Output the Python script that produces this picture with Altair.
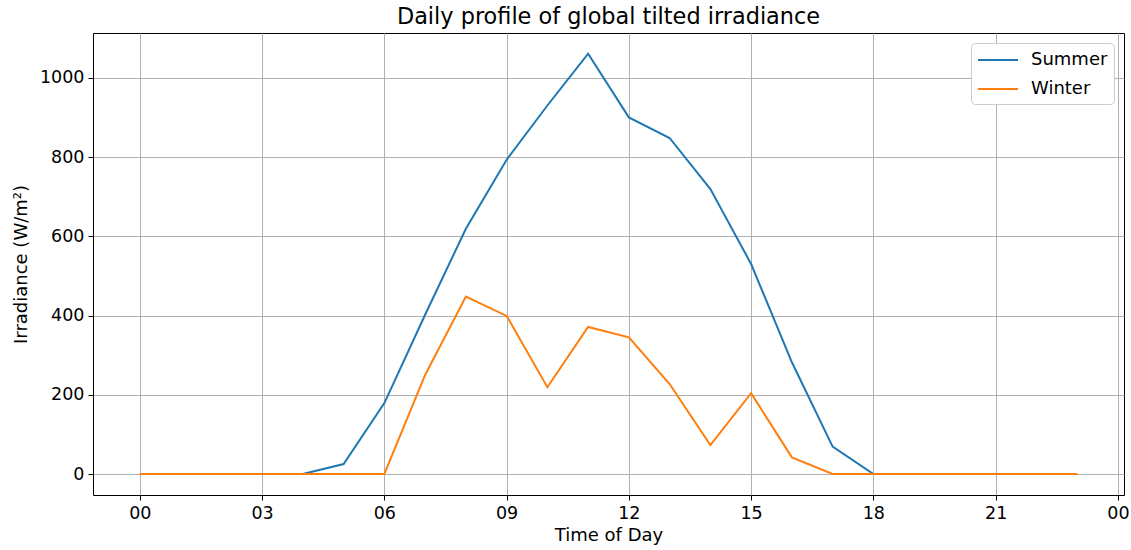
import altair as alt
import pandas as pd

hours = list(range(24))
summer = [0, 0, 0, 0, 0, 25, 179, 402, 619, 793, 930, 1061, 900, 848, 719, 530, 282, 69, 0, 0, 0, 0, 0, 0]
winter = [0, 0, 0, 0, 0, 0, 0, 250, 448, 399, 219, 371, 345, 227, 73, 204, 42, 0, 0, 0, 0, 0, 0, 0]
series = ["Summer", "Winter"]
colors = ["#1f77b4", "#ff7f0e"]
x_ticks = [0, 3, 6, 9, 12, 15, 18, 21, 24]
y_ticks = [0, 200, 400, 600, 800, 1000]

rows = []
for h, s, w in zip(hours, summer, winter):
    rows.append({"hour": h, "value": s, "season": "Summer"})
    rows.append({"hour": h, "value": w, "season": "Winter"})
df = pd.DataFrame(rows)

font = "DejaVu Sans"

chart = alt.Chart(df).mark_line(strokeWidth=2).encode(
    x=alt.X("hour:Q",
            scale=alt.Scale(domain=[-1.15, 24.15], nice=False, zero=False),
            axis=alt.Axis(values=x_ticks, title="Time of Day",
                          labelExpr="(datum.value % 24 < 10 ? '0' : '') + (datum.value % 24)",
                          labelFontSize=17.5, titleFontSize=18, titleFontWeight="normal",
                          labelPadding=4, titlePadding=5, tickSize=5,
                          grid=True, gridColor="#b0b0b0", gridWidth=1,
                          domain=False, tickColor="#000", labelColor="#000", titleColor="#000")),
    y=alt.Y("value:Q",
            scale=alt.Scale(domain=[-53, 1113], nice=False, zero=False),
            axis=alt.Axis(values=y_ticks, title="Irradiance (W/m²)", format="d",
                          labelFontSize=17.5, titleFontSize=18, titleFontWeight="normal",
                          labelPadding=4, titlePadding=9, tickSize=5,
                          grid=True, gridColor="#b0b0b0", gridWidth=1,
                          domain=False, tickColor="#000", labelColor="#000", titleColor="#000")),
    color=alt.Color("season:N",
                    scale=alt.Scale(domain=series, range=colors),
                    legend=alt.Legend(title=None, orient="top-right", offset=10,
                                      symbolType="M-1,0H3", symbolSize=400, symbolStrokeWidth=2,
                                      labelFontSize=18, labelColor="#000",
                                      fillColor="white", strokeColor="#cccccc",
                                      cornerRadius=4, padding=6, rowPadding=9,
                                      labelOffset=32)),
).properties(
    width=1031, height=462,
    title=alt.TitleParams("Daily profile of global tilted irradiance", fontSize=22.4,
                          fontWeight="normal", color="#000", offset=5),
    autosize=alt.AutoSizeParams(type="none"),
    padding={"left": 93, "top": 33, "right": 7, "bottom": 55},
).configure(font=font).configure_view(stroke="#000", strokeWidth=1)

chart.save("out.html", embed_options={"renderer": "svg", "actions": False})
